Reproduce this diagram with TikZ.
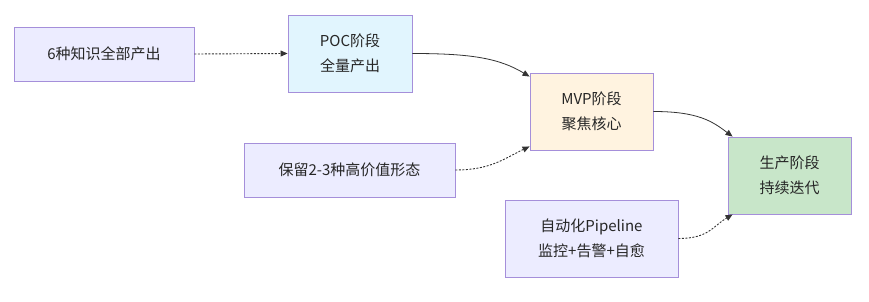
\documentclass[tikz,border=0pt]{standalone}
\usepackage{fontspec}
\setmainfont{Noto Sans CJK SC}
\usetikzlibrary{arrows.meta,calc}
\definecolor{edgec}{HTML}{333333}
\definecolor{boxline}{HTML}{A58FDA}
\definecolor{fillpurple}{HTML}{ECECFF}
\definecolor{fillblue}{HTML}{E1F5FE}
\definecolor{fillorange}{HTML}{FFF3E0}
\definecolor{fillgreen}{HTML}{C8E6C9}
\tikzset{
  stagebox/.style={draw=boxline, line width=0.9pt, align=center, inner sep=0pt,
    font=\fontsize{15}{25}\selectfont, text=black!85},
  solidlink/.style={draw=edgec, line width=0.8pt, -{Triangle[length=7pt,width=6pt]}},
  dottedlink/.style={draw=edgec, line width=0.9pt, dash pattern=on 2pt off 1.5pt, -{Triangle[length=7pt,width=6pt]}},
}
\begin{document}
\begin{tikzpicture}[x=1pt,y=-1pt]
\useasboundingbox (0,0) rectangle (869,302);
\node[stagebox, fill=fillpurple, minimum width=180pt, minimum height=54pt] (A) at (104,54) {6种知识全部产出};
\node[stagebox, fill=fillblue, minimum width=124pt, minimum height=77pt] (B) at (350,53.5) {POC阶段\\全量产出};
\node[stagebox, fill=fillorange, minimum width=123pt, minimum height=77pt] (C) at (591.5,111.5) {MVP阶段\\聚焦核心};
\node[stagebox, fill=fillgreen, minimum width=123pt, minimum height=77pt] (D) at (789.5,175.5) {生产阶段\\持续迭代};
\node[stagebox, fill=fillpurple, minimum width=211pt, minimum height=54pt] (E) at (349.5,170) {保留2-3种高价值形态};
\node[stagebox, fill=fillpurple, minimum width=173pt, minimum height=77pt] (F) at (591.5,238.5) {自动化Pipeline\\监控+告警+自愈};
\draw[dottedlink] (A.east) -- (B.west);
\coordinate (Cin1) at ($(C.north west)+(0,4)$);
\coordinate (Cin2) at ($(C.south west)+(0,-4)$);
\coordinate (Din1) at ($(D.north west)+(5,0)$);
\coordinate (Din2) at ($(D.south west)+(5,0)$);
\draw[solidlink] (B.east) .. controls ($(B.east)+(60,0)$) and ($(Cin1)+(-30,-18)$) .. (Cin1);
\draw[dottedlink] (E.east) .. controls ($(E.east)+(35,0)$) and ($(Cin2)+(-25,12)$) .. (Cin2);
\draw[solidlink] (C.east) .. controls ($(C.east)+(45,0)$) and ($(Din1)+(-20,-15)$) .. (Din1);
\draw[dottedlink] (F.east) .. controls ($(F.east)+(30,0)$) and ($(Din2)+(-20,12)$) .. (Din2);
\end{tikzpicture}
\end{document}
